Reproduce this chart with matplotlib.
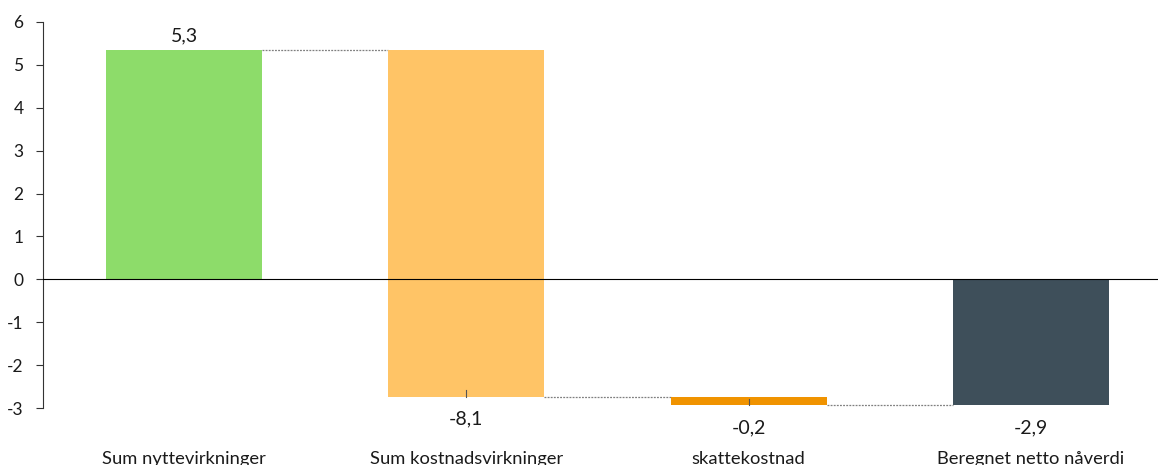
import matplotlib
matplotlib.use("Agg")
import matplotlib.pyplot as plt
from matplotlib.ticker import FuncFormatter

# Waterfall data (billions NOK, present value)
categories = ["Sum nyttevirkninger", "Sum kostnadsvirkninger", "skattekostnad", "Beregnet netto nåverdi"]
steps = [5.34, -8.08, -0.20]          # incremental effects
colors = ["#8DDC6A", "#FFC466", "#F09300", "#3E4F5A"]

net = sum(steps)
values = steps + [net]

# bar bottoms/tops for the waterfall
bottoms, tops = [], []
running = 0.0
for v in steps:
    bottoms.append(running)
    running += v
    tops.append(running)
bottoms.append(0.0)
tops.append(net)

plt.rcParams["font.family"] = ["Lato", "DejaVu Sans"]

fig = plt.figure(figsize=(11.58, 4.65), dpi=100)
ax = fig.add_axes([43 / 1158, 57 / 465, 1 - 43 / 1158, (408 - 22) / 465])

x = list(range(len(categories)))
width = 0.553
for i in x:
    ax.bar(i, tops[i] - bottoms[i], bottom=bottoms[i], width=width,
           color=colors[i], edgecolor="none", zorder=2)

# dotted connectors between consecutive bars
for i in range(len(categories) - 1):
    level = tops[i]
    ax.plot([i + width / 2, i + 1 - width / 2], [level, level],
            color="#7f7f7f", lw=0.9, ls=(0, (1.5, 1)), zorder=1)

# small leader marks at the bottom of the falling steps
for i in (1, 2):
    lo = tops[i]
    ax.plot([i, i], [lo, lo + 0.15], color="#555555", lw=0.8, zorder=3)

# value labels
for i, v in enumerate(values):
    label = f"{v:.1f}".replace(".", ",")
    if v >= 0:
        ax.annotate(label, (i, tops[i]), xytext=(0, 4), textcoords="offset points",
                    ha="center", va="bottom", fontsize=14, color="#1a1a1a")
    else:
        y = min(bottoms[i], tops[i])
        ax.annotate(label, (i, y), xytext=(0, -10), textcoords="offset points",
                    ha="center", va="top", fontsize=14, color="#1a1a1a")

ax.axhline(0, color="black", lw=0.8, zorder=3)

ax.set_xlim(-0.5, (1158 - 185) / 282)
ax.set_ylim(-3, 6)
ax.set_yticks(range(-3, 7))
ax.yaxis.set_major_formatter(FuncFormatter(lambda v, p: f"{int(v)}"))
ax.tick_params(axis="y", direction="out", length=5, width=0.8, colors="#333333",
               labelsize=12.5, labelcolor="#1a1a1a", pad=9)

ax.set_xticks(x)
ax.set_xticklabels(categories, fontsize=13.2, color="#1a1a1a")
ax.tick_params(axis="x", length=0, pad=31)

for side in ("top", "right", "bottom"):
    ax.spines[side].set_visible(False)
ax.spines["left"].set_color("#333333")
ax.spines["left"].set_linewidth(0.8)

fig.savefig("out.png", dpi=100)
